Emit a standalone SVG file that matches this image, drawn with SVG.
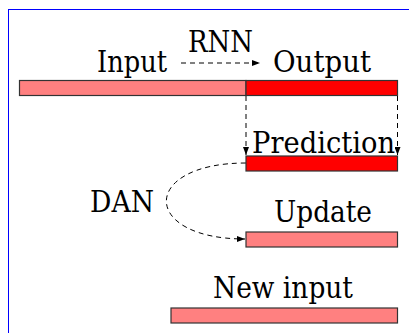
<svg xmlns="http://www.w3.org/2000/svg" width="409" height="333" viewBox="0 0 409 333">
<style>
.t{font-family:"DejaVu Serif","Liberation Serif",serif;font-size:29px;fill:#000}
.bar{stroke:#333;stroke-width:1.2}
.pink{fill:#FF8080}
.red{fill:#FF0000}
.dash{fill:none;stroke:#000;stroke-width:1;stroke-dasharray:5 4}
</style>
<defs>
<marker id="ah" viewBox="0 0 8 6" refX="8" refY="3" markerWidth="8" markerHeight="6" markerUnits="userSpaceOnUse" orient="auto">
<path d="M0,0 L8,3 L0,6 Z" fill="#000"/>
</marker>
</defs>
<rect x="8.5" y="9.5" width="420" height="340" fill="none" stroke="#0000FF" stroke-width="1"/>
<g id="connectors">
<line class="dash" x1="181" y1="63" x2="260" y2="63" marker-end="url(#ah)"/>
<line class="dash" x1="246" y1="96" x2="246" y2="155" marker-end="url(#ah)"/>
<line class="dash" x1="397.5" y1="96" x2="397.5" y2="155" marker-end="url(#ah)"/>
<path class="dash" d="M246,163 C140,163 140,239 245,239" marker-end="url(#ah)"/>
</g>
<g id="input">
<rect class="bar pink" x="19.5" y="80.5" width="226.5" height="15"/>
<text class="t" x="97" y="72" textLength="70" lengthAdjust="spacingAndGlyphs">Input</text>
</g>
<g id="output">
<rect class="bar red" x="246" y="80.5" width="151.5" height="15"/>
<text class="t" x="273" y="72" textLength="98" lengthAdjust="spacingAndGlyphs">Output</text>
</g>
<g id="rnn">
<text class="t" x="188" y="52" textLength="65" lengthAdjust="spacingAndGlyphs">RNN</text>
</g>
<g id="prediction">
<rect class="bar red" x="246" y="156" width="151.5" height="15"/>
<text class="t" x="252" y="153" textLength="143" lengthAdjust="spacingAndGlyphs">Prediction</text>
</g>
<g id="dan">
<text class="t" x="90" y="212" textLength="64" lengthAdjust="spacingAndGlyphs">DAN</text>
</g>
<g id="update">
<rect class="bar pink" x="246" y="232" width="151.5" height="15"/>
<text class="t" x="274" y="222" textLength="98" lengthAdjust="spacingAndGlyphs">Update</text>
</g>
<g id="newinput">
<rect class="bar pink" x="171" y="308" width="226.5" height="15"/>
<text class="t" x="213" y="298" textLength="140" lengthAdjust="spacingAndGlyphs">New input</text>
</g>
</svg>
